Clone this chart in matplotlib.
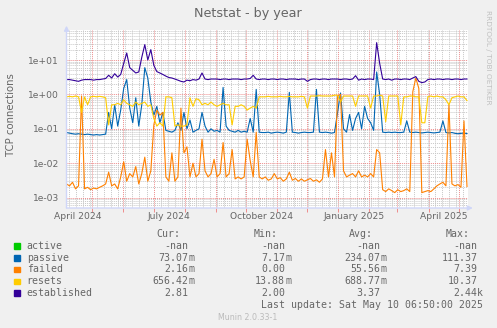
import matplotlib
matplotlib.use('Agg')
import matplotlib.pyplot as plt
import matplotlib.dates as mdates
import matplotlib.ticker as ticker
from matplotlib.patches import Rectangle
import numpy as np
import pandas as pd

W, H = 497, 328

# 400 day window ending at the last update, one sample every 3 days
start = pd.Timestamp('2024-04-05 06:50')
end = pd.Timestamp('2025-05-10 06:50')
days = pd.date_range(start, periods=134, freq='3D')

active = [np.nan] * 134

passive = [
    0.078, 0.075, 0.072, 0.07, 0.072, 0.07, 0.068, 0.07, 0.068, 0.066,
    0.068, 0.066, 0.068, 0.07, 0.3, 0.1, 0.5, 0.12, 0.35, 1.5,
    2.7, 0.4, 0.15, 0.8, 0.12, 0.5, 6.0, 3.0, 0.6, 0.25,
    0.45, 0.15, 0.3, 0.09, 0.085, 0.08, 0.09, 0.15, 0.09, 0.3,
    0.1, 0.18, 0.08, 0.09, 0.1, 0.3, 0.12, 0.08, 0.1, 0.085,
    0.09, 0.08, 1.6, 0.12, 0.09, 0.085, 0.08, 0.09, 0.08, 0.085,
    0.08, 0.2, 0.08, 1.4, 0.08, 0.078, 0.078, 0.08, 0.075, 0.078,
    0.08, 0.078, 0.075, 0.08, 1.15, 0.08, 0.078, 0.075, 0.078, 0.08,
    0.078, 0.078, 0.08, 1.4, 0.08, 0.078, 0.08, 0.078, 0.075, 0.078,
    0.3, 1.1, 0.1, 0.08, 0.26, 0.09, 0.2, 0.3, 0.1, 0.45,
    0.2, 0.15, 0.09, 4.5, 1.0, 0.08, 0.078, 0.08, 0.078, 0.08,
    0.078, 0.078, 0.08, 0.17, 0.08, 0.078, 0.08, 0.078, 0.076, 0.078,
    0.08, 0.078, 0.076, 0.078, 0.08, 0.17, 0.078, 0.076, 0.078, 0.074,
    0.072, 0.074, 0.075, 0.073,
]

failed = [
    0.0025, 0.0022, 0.0028, 0.0018, 0.0022, 0.9, 0.0018, 0.002, 0.0017, 0.0019,
    0.0018, 0.002, 0.0022, 0.0025, 0.0055, 0.0022, 0.0025, 0.0018, 0.004, 0.011,
    0.003, 0.005, 0.004, 0.008, 0.0025, 0.005, 0.015, 0.003, 0.006, 0.13,
    0.35, 0.25, 0.3, 0.004, 0.003, 0.02, 0.003, 0.004, 0.4, 0.02,
    0.03, 0.004, 0.01, 0.004, 0.005, 0.05, 0.006, 0.004, 0.005, 0.013,
    0.004, 0.005, 0.04, 0.004, 0.005, 0.025, 0.0035, 0.004, 0.0035, 0.004,
    0.05, 0.012, 0.004, 0.08, 0.004, 0.0035, 0.004, 0.0032, 0.0035, 0.005,
    0.0035, 0.0038, 0.003, 0.0035, 0.0055, 0.0032, 0.0036, 0.003, 0.0035, 0.003,
    0.0033, 0.0036, 0.003, 0.0033, 0.0028, 0.0035, 0.025, 0.004, 0.02, 0.004,
    0.9, 1.0, 0.006, 0.004, 0.0045, 0.005, 0.004, 0.006, 0.004, 0.0045,
    0.004, 0.005, 0.004, 0.025, 0.02, 0.0017, 0.0015, 0.0018, 0.0016, 0.0014,
    0.0017, 0.0015, 0.0016, 0.0018, 0.0015, 1.2, 3.0, 1.5, 0.0014, 0.0015,
    0.0016, 0.0015, 0.0018, 0.0022, 0.0025, 0.0028, 0.0022, 0.5, 0.0025, 0.0022,
    0.0024, 0.002, 0.17, 0.0021,
]

resets = [
    0.85, 0.88, 0.85, 0.9, 0.85, 0.3, 0.85, 0.5, 0.85, 0.88,
    0.85, 0.88, 0.85, 0.8, 0.13, 0.5, 0.5, 0.55, 0.5, 0.7,
    0.55, 0.5, 0.45, 0.6, 0.5, 0.55, 0.6, 0.45, 0.5, 0.2,
    0.12, 0.15, 0.12, 0.85, 0.85, 0.8, 0.12, 0.13, 0.12, 0.12,
    0.13, 0.8, 0.45, 0.75, 0.7, 0.5, 0.55, 0.5, 0.6, 0.5,
    0.45, 0.5, 0.55, 0.5, 0.5, 0.13, 0.45, 0.45, 0.5, 0.45,
    0.35, 0.4, 0.45, 0.4, 0.85, 0.85, 0.85, 0.88, 0.85, 0.85,
    0.85, 0.88, 0.85, 0.85, 0.88, 0.85, 0.85, 0.85, 0.88, 0.85,
    0.4, 0.9, 0.9, 0.9, 0.92, 0.9, 0.9, 0.9, 0.9, 0.95,
    0.95, 0.6, 0.9, 0.9, 0.9, 0.9, 0.45, 0.9, 0.9, 0.9,
    0.9, 0.4, 0.9, 0.9, 0.95, 0.9, 0.16, 0.9, 0.9, 0.9,
    0.9, 0.13, 0.85, 0.85, 0.9, 0.9, 0.85, 0.85, 0.15, 0.15,
    0.85, 0.9, 0.85, 0.9, 0.85, 0.85, 0.7, 0.5, 0.8, 0.85,
    0.9, 0.85, 0.85, 0.66,
]

established = [
    2.7, 2.7, 2.6, 2.5, 2.4, 2.6, 2.7, 2.7, 2.7, 2.6,
    2.7, 2.7, 2.8, 2.9, 3.6, 3.0, 4.0, 3.2, 3.8, 8.0,
    16.0, 6.0, 5.0, 4.2, 4.5, 12.0, 28.0, 10.0, 20.0, 7.0,
    4.6, 4.2, 3.8, 3.4, 3.1, 3.0, 2.8, 2.6, 2.4, 2.3,
    2.6, 2.5, 2.7, 2.6, 2.8, 4.2, 2.8, 2.7, 2.8, 2.8,
    2.8, 2.7, 2.8, 2.8, 2.7, 2.8, 2.8, 2.8, 2.7, 2.8,
    2.8, 2.9, 3.6, 2.8, 2.7, 2.8, 2.8, 2.7, 2.8, 2.8,
    2.7, 2.8, 2.8, 2.7, 2.8, 2.8, 2.8, 2.7, 2.8, 2.8,
    2.4, 2.7, 2.8, 2.8, 2.7, 2.8, 2.8, 2.7, 2.8, 2.8,
    2.8, 2.7, 2.8, 2.8, 2.7, 2.8, 3.5, 2.6, 2.8, 2.7,
    2.8, 2.8, 2.7, 32.0, 8.0, 2.8, 2.7, 2.8, 2.6, 2.8,
    2.8, 2.7, 2.8, 2.8, 2.7, 3.0, 3.3, 2.4, 2.2, 2.3,
    2.7, 2.8, 2.7, 2.8, 2.8, 2.7, 2.8, 2.8, 2.7, 2.8,
    2.8, 2.7, 2.8, 2.8,
]

names = ['active', 'passive', 'failed', 'resets', 'established']
colors = ['#00CC00', '#0066B3', '#FF8000', '#FFCC00', '#330099']
cur = ['-nan', '73.07m', '2.16m', '656.42m', '2.81']
mins = ['-nan', '7.17m', '0.00', '13.88m', '2.00']
avgs = ['-nan', '234.07m', '55.56m', '688.77m', '3.37']
maxs = ['-nan', '111.37', '7.39', '10.37', '2.44k']

label_months = ['2024-04', '2024-07', '2024-10', '2025-01', '2025-04']

txt = '#666666'
fig = plt.figure(figsize=(W / 100, H / 100), dpi=100, facecolor='#F0F0F0')


def ftext(x, y, s, **kw):
    # place text by pixel position, y counted from the top
    kw.setdefault('color', txt)
    kw.setdefault('va', 'center')
    return fig.text(x / W, 1 - y / H, s, **kw)


ax = fig.add_axes([66.5 / W, 1 - 208 / H, (468 - 66.5) / W, 178 / H])
ax.set_facecolor('white')
ax.set_yscale('log')
ax.set_ylim(5e-4, 74.5)
ax.set_xlim(start, end)

series = [active, passive, failed, resets, established]
for vals, col in zip(series, colors):
    ax.plot(days, vals, color=col, lw=0.8, zorder=3)

# grid: red dotted at months / decades, grey dotted at weeks / 2..9
ax.xaxis.set_major_locator(mdates.MonthLocator())
ax.xaxis.set_minor_locator(mdates.WeekdayLocator(byweekday=mdates.MO))
ax.xaxis.set_major_formatter(ticker.NullFormatter())
ax.yaxis.set_major_locator(ticker.LogLocator(base=10, numticks=12))
ax.yaxis.set_minor_locator(ticker.LogLocator(base=10, subs=np.arange(2, 10), numticks=12))
ax.yaxis.set_minor_formatter(ticker.NullFormatter())
ax.yaxis.set_major_formatter(ticker.FuncFormatter(lambda v, p: '{:.0e}'.format(v)))
ax.grid(which='minor', color='#c8c8c8', lw=0.7, ls=(0, (1, 1)))
ax.grid(which='major', color='#ee8c8c', lw=0.7, ls=(0, (1, 1)))
ax.set_axisbelow(True)
ax.tick_params(axis='x', which='major', length=3, color='#ee8c8c', width=0.7)
ax.tick_params(axis='x', which='minor', length=0)
ax.tick_params(axis='y', which='both', length=0, pad=5.4, labelsize=6.6, labelcolor=txt)

for sp in ax.spines.values():
    sp.set_visible(False)

arrow = dict(arrowstyle='-|>', color='#CFD6F8', lw=1, mutation_scale=7, shrinkA=0, shrinkB=0)
ax.annotate('', xy=(0, 1.024), xytext=(0, 0), xycoords='axes fraction', arrowprops=arrow, annotation_clip=False)
ax.annotate('', xy=(1.012, 0), xytext=(0, 0), xycoords='axes fraction', arrowprops=arrow, annotation_clip=False)

for m in label_months:
    d = pd.Timestamp(m + '-01') + pd.Timedelta(hours=372)
    ax.text(d, -0.05, d.strftime('%B %Y'), transform=ax.get_xaxis_transform(),
            ha='center', va='center', fontsize=6.6, color=txt)

ftext(248, 13, 'Netstat - by year', ha='center', fontsize=9.2)
ftext(11, 115, 'TCP connections', ha='center', rotation=90, fontsize=7.3)
ftext(488, 57, 'RRDTOOL / TOBI OETIKER', ha='center', rotation=270, fontsize=5.3, color='#c0c0c0')

# legend table
mono = dict(family='DejaVu Sans Mono', fontsize=7.15)
col_end = [194.3, 291, 386.7, 483.3]
head_end = [180, 277.7, 372.7, 469.3]
for h, xe in zip(['Cur:', 'Min:', 'Avg:', 'Max:'], head_end):
    ftext(xe, 234, h, ha='right', **mono)

rows_y = [245.7, 257.7, 269.3, 281.3, 293]
for name, col, y, vals in zip(names, colors, rows_y, zip(cur, mins, avgs, maxs)):
    fig.patches.append(Rectangle((14.3 / W, 1 - (y + 2.8) / H), 5.6 / W, 5.6 / H,
                                 transform=fig.transFigure, color=col))
    ftext(26.7, y, name, ha='left', **mono)
    for v, xe in zip(vals, col_end):
        unit = v[-1] if v[-1] in 'mk' else ''
        num = v[:-1] if unit else v
        ftext(xe - 6, y, num, ha='right', **mono)
        if unit:
            ftext(xe - 6, y, unit, ha='left', **mono)

ftext(483.3, 305, 'Last update: Sat May 10 06:50:00 2025', ha='right', **mono)
ftext(248, 317, 'Munin 2.0.33-1', ha='center', fontsize=5.7, color='#bbbbbb')

fig.savefig('out.png', dpi=100, facecolor=fig.get_facecolor())
